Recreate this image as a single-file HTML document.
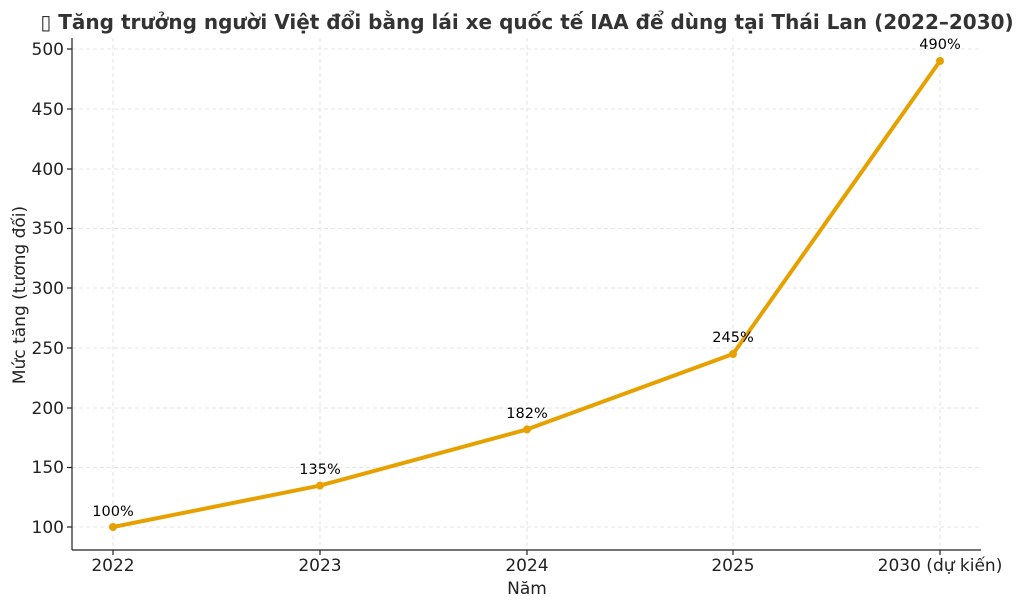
<!DOCTYPE html>
<html><head><meta charset="utf-8"><style>
body{margin:0;background:#fff;}
svg{display:block;font-family:"DejaVu Sans",sans-serif;}
</style></head><body>
<svg width="1024" height="607" xmlns="http://www.w3.org/2000/svg">
<rect width="1024" height="607" fill="#fff"/>
<text x="527" y="29" text-anchor="middle" font-size="20" font-weight="bold" fill="#333">▯ Tăng trưởng người Việt đổi bằng lái xe quốc tế IAA để dùng tại Thái Lan (2022–2030)</text>
<g stroke="#ddd" stroke-width="0.8" stroke-dasharray="4,3">
<line x1="113" y1="38" x2="113" y2="550"/><line x1="320" y1="38" x2="320" y2="550"/>
<line x1="527" y1="38" x2="527" y2="550"/><line x1="733" y1="38" x2="733" y2="550"/>
<line x1="940" y1="38" x2="940" y2="550"/>
<line x1="72" y1="527" x2="980" y2="527"/><line x1="72" y1="467.5" x2="980" y2="467.5"/>
<line x1="72" y1="408" x2="980" y2="408"/><line x1="72" y1="348" x2="980" y2="348"/>
<line x1="72" y1="288" x2="980" y2="288"/><line x1="72" y1="228.5" x2="980" y2="228.5"/>
<line x1="72" y1="169" x2="980" y2="169"/><line x1="72" y1="109" x2="980" y2="109"/>
<line x1="72" y1="49" x2="980" y2="49"/>
</g>
<g stroke="#222" stroke-width="1.2">
<line x1="72" y1="38" x2="72" y2="550"/><line x1="72" y1="550" x2="981" y2="550"/>
<line x1="113" y1="550" x2="113" y2="555"/><line x1="320" y1="550" x2="320" y2="555"/>
<line x1="527" y1="550" x2="527" y2="555"/><line x1="733" y1="550" x2="733" y2="555"/>
<line x1="940" y1="550" x2="940" y2="555"/>
<line x1="67" y1="527" x2="72" y2="527"/><line x1="67" y1="467.5" x2="72" y2="467.5"/>
<line x1="67" y1="408" x2="72" y2="408"/><line x1="67" y1="348" x2="72" y2="348"/>
<line x1="67" y1="288" x2="72" y2="288"/><line x1="67" y1="228.5" x2="72" y2="228.5"/>
<line x1="67" y1="169" x2="72" y2="169"/><line x1="67" y1="109" x2="72" y2="109"/>
<line x1="67" y1="49" x2="72" y2="49"/>
</g>
<g font-size="17" fill="#222" text-anchor="end">
<text x="64" y="533">100</text><text x="64" y="473">150</text><text x="64" y="414">200</text>
<text x="64" y="354">250</text><text x="64" y="294">300</text><text x="64" y="234">350</text>
<text x="64" y="175">400</text><text x="64" y="115">450</text><text x="64" y="55">500</text>
</g>
<g font-size="17" fill="#222" text-anchor="middle">
<text x="113" y="571">2022</text><text x="320" y="571">2023</text><text x="527" y="571">2024</text>
<text x="733" y="571">2025</text><text x="940" y="571">2030 (dự kiến)</text>
<text x="527" y="594">Năm</text>
</g>
<text transform="translate(25,295) rotate(-90)" font-size="17" fill="#222" text-anchor="middle">Mức tăng (tương đối)</text>
<polyline points="113,527 320,485.6 527,429.4 733,354 940,61" fill="none" stroke="#E6A100" stroke-width="4" stroke-linejoin="round"/>
<g fill="#E6A100">
<circle cx="113" cy="527" r="4"/><circle cx="320" cy="485.6" r="4"/><circle cx="527" cy="429.4" r="4"/>
<circle cx="733" cy="354" r="4"/><circle cx="940" cy="61" r="4"/>
</g>
<g font-size="14.5" fill="#000" text-anchor="middle">
<text x="113" y="516">100%</text><text x="320" y="474">135%</text><text x="527" y="418">182%</text>
<text x="733" y="342">245%</text><text x="940" y="49">490%</text>
</g>
</svg>
</body></html>
